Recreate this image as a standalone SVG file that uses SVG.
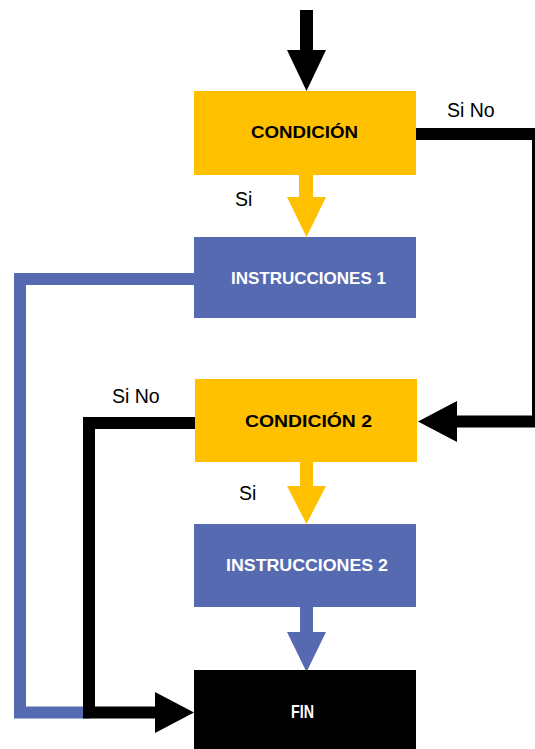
<svg xmlns="http://www.w3.org/2000/svg" width="535" height="749" viewBox="0 0 535 749">
<style>
.y{fill:#FFC000}
.b{fill:#566AB2}
.k{fill:#000}
.t{font-family:"Liberation Sans",Arial,sans-serif;font-size:17px;font-weight:bold}
.lbl{font-family:"Liberation Sans",Arial,sans-serif;font-size:19.5px;fill:#000}
.ls{fill:none;stroke-width:12;stroke-linejoin:miter;stroke-linecap:butt}
</style>
<rect width="535" height="749" fill="#fff"/>
<g id="connectors">
  <line x1="306.5" y1="10" x2="306.5" y2="51" stroke="#000" stroke-width="13"/>
  <polygon class="k" points="287,50 326,50 306.5,91"/>
  <line x1="306" y1="175" x2="306" y2="198" stroke="#FFC000" stroke-width="14"/>
  <polygon class="y" points="287,197 326,197 306.5,237"/>
  <polyline class="ls" stroke="#000" points="416,134 538,134 538,421.5 456,421.5"/>
  <polygon class="k" points="457,401 457,442 418,421.5"/>
  <polyline class="ls" stroke="#566AB2" points="194,279 20,279 20,712.5 90,712.5"/>
  <polyline class="ls" stroke="#000" points="195,423 89,423 89,712.5 156,712.5"/>
  <polygon class="k" points="155,692 155,733 194,712.5"/>
  <line x1="306.5" y1="462" x2="306.5" y2="487" stroke="#FFC000" stroke-width="13"/>
  <polygon class="y" points="287,486 326,486 306.5,524"/>
  <line x1="306.5" y1="607" x2="306.5" y2="633" stroke="#566AB2" stroke-width="13"/>
  <polygon class="b" points="287,632 326,632 306.5,672"/>
  <text class="lbl" x="447" y="117">Si No</text>
  <text class="lbl" x="235" y="206">Si</text>
  <text class="lbl" x="112" y="403">Si No</text>
  <text class="lbl" x="239" y="500">Si</text>
</g>
<g id="condicion">
  <rect class="y" x="194" y="91" width="222" height="84"/>
  <text class="t" x="251" y="138" fill="#000" textLength="107" lengthAdjust="spacingAndGlyphs">CONDICIÓN</text>
</g>
<g id="instrucciones1">
  <rect class="b" x="194" y="237" width="222" height="81"/>
  <text class="t" x="231" y="284" fill="#fff" textLength="155" lengthAdjust="spacingAndGlyphs">INSTRUCCIONES 1</text>
</g>
<g id="condicion2">
  <rect class="y" x="195" y="379" width="222" height="83"/>
  <text class="t" x="245" y="427" fill="#000" textLength="127" lengthAdjust="spacingAndGlyphs">CONDICIÓN 2</text>
</g>
<g id="instrucciones2">
  <rect class="b" x="194" y="524" width="222" height="83"/>
  <text class="t" x="226" y="571" fill="#fff" textLength="162" lengthAdjust="spacingAndGlyphs">INSTRUCCIONES 2</text>
</g>
<g id="fin">
  <rect class="k" x="194" y="670" width="222" height="79"/>
  <text class="t" x="291" y="718" fill="#fff" style="font-size:18px" textLength="23" lengthAdjust="spacingAndGlyphs">FIN</text>
</g>
</svg>
